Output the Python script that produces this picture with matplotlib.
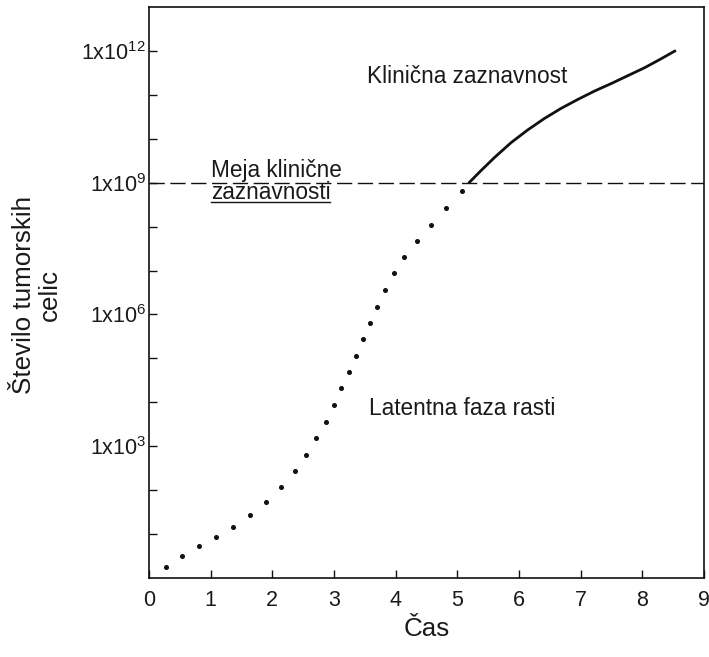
import matplotlib
matplotlib.use("Agg")
import matplotlib.pyplot as plt
from matplotlib.lines import Line2D
import numpy as np

plt.rcParams['font.family'] = ['Liberation Sans', 'DejaVu Sans']
plt.rcParams['mathtext.fontset'] = 'custom'
plt.rcParams['mathtext.rm'] = 'Liberation Sans'
plt.rcParams['mathtext.it'] = 'Liberation Sans'

# ---- data ----
latent_x = [0.27, 0.54, 0.81, 1.09, 1.36, 1.63, 1.90, 2.14, 2.36, 2.55, 2.71, 2.87, 3.00,
            3.12, 3.24, 3.36, 3.47, 3.58, 3.70, 3.83, 3.98, 4.14, 4.34, 4.57, 4.82, 5.08]
latent_log10 = [0.26, 0.49, 0.72, 0.93, 1.17, 1.43, 1.72, 2.07, 2.44, 2.81, 3.18, 3.55, 3.94,
                4.32, 4.69, 5.06, 5.44, 5.81, 6.18, 6.55, 6.94, 7.31, 7.67, 8.04, 8.43, 8.81]
clinical_x = [5.19, 5.38, 5.60, 5.87, 6.14, 6.41, 6.68, 6.96, 7.23, 7.50, 7.77, 8.04, 8.29, 8.53]
clinical_log10 = [9.0, 9.27, 9.57, 9.91, 10.20, 10.46, 10.69, 10.90, 11.09, 11.26, 11.44, 11.62,
                  11.81, 12.0]
threshold = 1e9

x_ticks = [0, 1, 2, 3, 4, 5, 6, 7, 8, 9]
y_tick_exps = list(range(1, 13))
y_label_exps = [3, 6, 9, 12]

latent_y = [10.0 ** e for e in latent_log10]
clinical_y = [10.0 ** e for e in clinical_log10]

fig = plt.figure(figsize=(7.09, 6.57), dpi=100)
ax = fig.add_axes([149 / 709, 1 - 578 / 657, (704 - 149) / 709, (578 - 7) / 657])

ink = '#111111'
ax.set_yscale('log')
ax.set_xlim(0, 9)
ax.set_ylim(1, 1e13)

ax.plot(latent_x, latent_y, linestyle='none', marker='o', markersize=2.6, color=ink)
ax.plot(clinical_x, clinical_y, color=ink, linewidth=2.0, solid_capstyle='round',
        solid_joinstyle='round')
ax.axhline(threshold, color=ink, linewidth=1.0, dashes=(11, 4))

ax.set_xticks(x_ticks)
ax.set_xticklabels([str(t) for t in x_ticks])
ax.set_yticks([10.0 ** e for e in y_tick_exps])
ax.set_yticklabels([('1x10$^{%d}$' % e) if e in y_label_exps else '' for e in y_tick_exps])
ax.yaxis.set_minor_locator(matplotlib.ticker.NullLocator())
ax.tick_params(axis='both', direction='in', length=6, width=1.0, colors=ink,
               labelsize=15.5, labelcolor='#1a1a1a')
ax.tick_params(axis='x', pad=9)
ax.tick_params(axis='y', pad=2)
for s in ax.spines.values():
    s.set_linewidth(1.2)
    s.set_color(ink)

tsize = 16.3
ax.text(3.54, 10 ** 11.42, 'Klinična zaznavnost', fontsize=tsize, ha='left', va='center', color='#1a1a1a')
ax.text(3.57, 10 ** 3.86, 'Latentna faza rasti', fontsize=tsize, ha='left', va='center', color='#1a1a1a')
ax.text(1.0, 10 ** 9.27, 'Meja klinične', fontsize=tsize, ha='left', va='center', color='#1a1a1a')
t2 = ax.text(1.0, 10 ** 8.77, 'zaznavnosti', fontsize=tsize, ha='left', va='center', color='#1a1a1a')

fig.text(37 / 709, 1 - 295 / 657, 'Število tumorskih\ncelic', fontsize=18.7, rotation=90,
         ha='center', va='center', multialignment='center', linespacing=1.1, color='#1a1a1a')
fig.text(426.5 / 709, 1 - 629 / 657, 'Čas', fontsize=18.7, ha='center', va='center', color='#1a1a1a')

# underline for "zaznavnosti"
fig.canvas.draw()
bb = t2.get_window_extent(renderer=fig.canvas.get_renderer())
uy = bb.y0 + 2
fig.add_artist(Line2D([bb.x0 / 709, bb.x1 / 709], [uy / 657, uy / 657], transform=fig.transFigure,
                      color=ink, linewidth=1.0))

fig.savefig('out.png', dpi=100)
